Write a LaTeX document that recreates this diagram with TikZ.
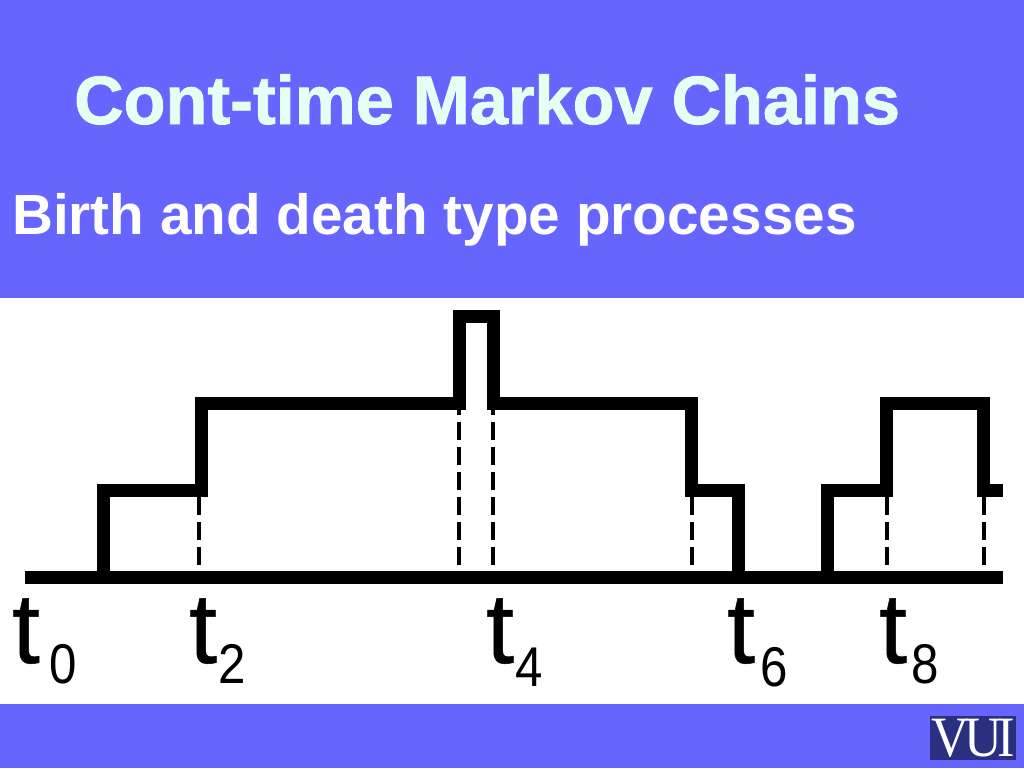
\documentclass[tikz,border=0pt]{standalone}
\usepackage{fontspec}
\setmainfont{Liberation Sans}
\newfontfamily\logofont{Liberation Serif}
\newfontfamily\titlefont[FakeBold=1.2]{Liberation Sans Bold}
\newfontfamily\tickfont[FakeBold=0.5]{Liberation Sans}
\definecolor{slidebg}{HTML}{6666FF}
\definecolor{titlecol}{HTML}{E6FFF5}
\definecolor{logobg}{HTML}{2B2F80}
\tikzset{
  wave/.style={line width=13pt,line join=miter,line cap=butt,black},
  drop/.style={line width=4pt,black,dash pattern=on 18pt off 7pt},
  tlabel/.style={inner sep=0pt,anchor=base west,font=\tickfont\fontsize{100}{100}\selectfont},
  tsub/.style={inner sep=0pt,anchor=base west,xscale=.88,transform shape,font=\fontsize{56}{56}\selectfont},
}
\begin{document}
\begin{tikzpicture}[x=1pt,y=-1pt]
\useasboundingbox (0,0) rectangle (1024,768);
\fill[slidebg] (0,0) rectangle (1024,768);
\fill[white] (0,298) rectangle (1024,704);
\node[inner sep=0pt,anchor=base west,text=titlecol,font=\titlefont\fontsize{68.5}{68.5}\selectfont] (title) at (74,124) {Cont-time Markov Chains};
\node[inner sep=0pt,anchor=base west,text=white,font=\fontsize{56.7}{56.7}\selectfont\bfseries] (subtitle) at (12,234) {Birth and death type processes};
% baseline
\draw[wave] (25,577.5) -- (1003,577.5);
% waveform
\draw[wave] (103.5,584) -- (103.5,490.5) -- (201,490.5) -- (201,403.5) -- (459,403.5) -- (459,316.5) -- (493,316.5) -- (493,403.5) -- (691.5,403.5) -- (691.5,490.5) -- (738.5,490.5) -- (738.5,577.5);
\draw[wave] (827.5,577.5) -- (827.5,490.5) -- (886.5,490.5) -- (886.5,403.5) -- (983.5,403.5) -- (983.5,490.5) -- (1003,490.5);
% drop lines, drawn upwards so the dashes line up at the bottom
\draw[drop] (199,565) -- (199,497);
\draw[drop] (459,565) -- (459,410);
\draw[drop] (493,565) -- (493,410);
\draw[drop] (692,565) -- (692,497);
\draw[drop] (886.5,565) -- (886.5,497);
\draw[drop] (984,565) -- (984,497);
% labels
\node[tlabel] (t0) at (12,663) {t};
\node[tsub] (s0) at (49,683) {0};
\node[tlabel] (t2) at (189,663) {t};
\node[tsub] (s2) at (218,683) {2};
\node[tlabel] (t4) at (486,663) {t};
\node[tsub] (s4) at (515,686) {4};
\node[tlabel] (t6) at (727,663) {t};
\node[tsub] (s6) at (760,686) {6};
\node[tlabel] (t8) at (879,663) {t};
\node[tsub] (s8) at (911,683) {8};
% logo
\fill[logobg] (930,716) rectangle (1016,760);
\node[inner sep=0pt,text=white,xscale=.92,transform shape,font=\logofont\fontsize{57}{57}\selectfont] (logo) at (973,738.5) {\addfontfeature{LetterSpace=-9}VUI};
\end{tikzpicture}
\end{document}
